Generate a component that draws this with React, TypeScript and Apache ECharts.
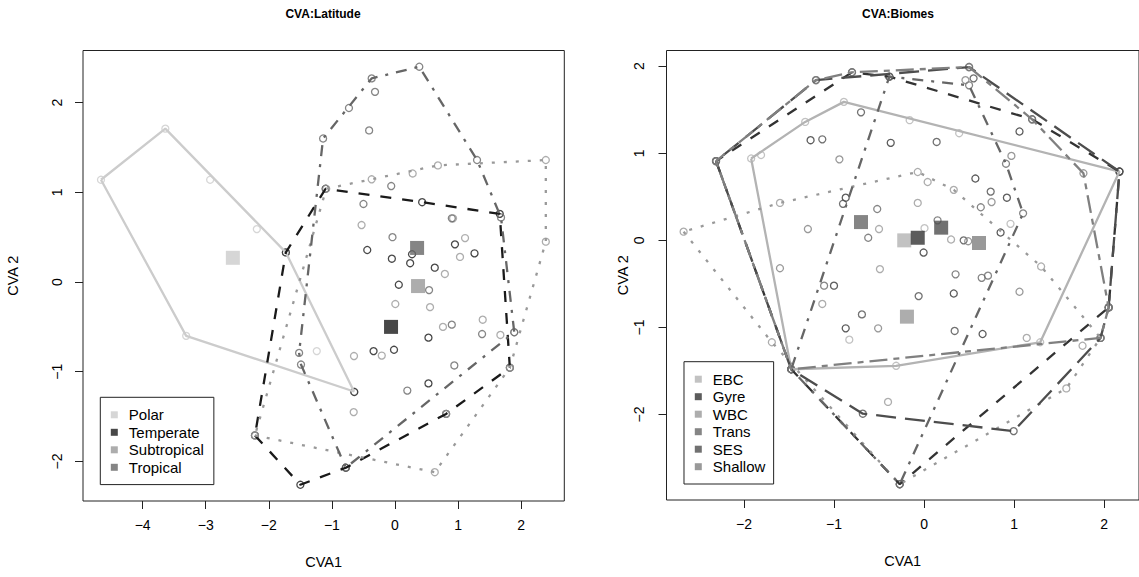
import React, { useEffect, useRef } from "react";
import * as echarts from "echarts";

// ---------- Left panel: CVA:Latitude ----------
const latGroups = ["Polar", "Temperate", "Subtropical", "Tropical"];
const latColors = ["#cccccc", "#1a1a1a", "#999999", "#666666"];

const latPolar = [
  [-3.64, 1.71], [-4.66, 1.14], [-3.31, -0.6], [-0.65, -1.22], [-1.73, 0.33],
  [-2.93, 1.14], [-2.19, 0.59], [-1.24, -0.77],
];
const latTemperate = [
  [-1.73, 0.33], [-1.1, 1.04], [0.43, 0.89], [1.66, 0.76], [1.82, -0.955],
  [0.81, -1.47], [-0.78, -2.07], [-1.5, -2.26], [-2.22, -1.71], [-0.645, -1.226],
  [-0.44, 0.357], [-0.05, 0.26], [0.24, 0.21], [0.27, 0.31], [0.63, 0.16],
  [0.95, 0.42], [1.26, 0.32], [0.06, -0.03], [0.53, -0.62], [-0.34, -0.77],
  [-0.016, -0.755], [0.53, -1.13],
];
const latSubtropical = [
  [2.39, 1.36], [2.39, 0.45], [1.89, -0.56], [1.82, -0.955], [0.63, -2.12],
  [-2.22, -1.71], [-1.09, 1.04], [-0.37, 1.145], [0.28, 1.21], [0.68, 1.3],
  [-0.53, 0.635], [0.79, 0.09], [0.005, -0.245], [0.555, -0.28], [0.76, -0.5],
  [1.39, -0.42], [1.67, -0.59], [1.11, 0.49], [1.03, 0.28], [-0.65, -0.825],
  [-0.21, -0.82], [-0.655, -1.45], [0.81, -1.47], [0.92, 0.71],
];
const latTropical = [
  [0.385, 2.4], [-0.37, 2.27], [-0.73, 1.94], [-1.14, 1.6], [-1.52, -0.79],
  [-1.49, -0.92], [-0.78, -2.07], [1.89, -0.56], [1.68, 0.72], [1.3, 1.36],
  [-0.317, 2.12], [-0.41, 1.69], [-0.06, 1.07], [-0.5, 0.87], [-0.04, 0.5],
  [0.9, 0.71], [0.54, -0.09], [0.9, -0.475], [0.94, -0.93], [0.195, -1.21],
  [1.38, -0.58],
];
const latCentroids = [[-2.57, 0.27], [-0.063, -0.5], [0.365, -0.045], [0.35, 0.38]];

// ---------- Right panel: CVA:Biomes ----------
const bioGroups = ["EBC", "Gyre", "WBC", "Trans", "SES", "Shallow"];
const bioColors = ["#b3b3b3", "#333333", "#999999", "#666666", "#4d4d4d", "#808080"];

const bioEBC = [
  [-1.92, 0.94], [-0.89, 1.59], [2.17, 0.79], [1.29, -1.17], [-0.31, -1.44],
  [-1.475, -1.48], [-1.32, 1.36], [-1.81, 0.98], [-0.16, 1.38], [0.39, 1.23],
  [0.96, 0.19], [0.005, 0.14], [-0.83, -1.14],
];
const bioGyre = [
  [-2.31, 0.91], [-0.8, 1.93], [-0.385, 1.88], [1.2, 1.39], [2.17, 0.79],
  [2.05, -0.77], [-0.27, -2.8], [-1.475, -1.48], [1.06, 1.25], [-1.26, 1.15],
  [-0.37, 1.12], [0.57, 0.71], [0.92, 0.49], [0.85, 0.09], [-0.005, -0.14],
  [-0.87, 0.49], [-1.0, -0.52], [0.33, -0.61], [-0.87, -1.01], [0.65, -1.075],
];
const bioWBC = [
  [-2.67, 0.1], [-1.6, 0.43], [-0.07, 0.785], [0.33, 0.58], [1.3, -0.3],
  [1.96, -1.12], [1.58, -1.7], [-0.27, -2.8], [-1.69, -1.17], [0.04, 0.67],
  [-0.07, 0.43], [0.3, 0.01], [-0.5, 0.13], [-0.49, -0.33], [-1.13, -0.73],
  [1.14, -1.12], [1.76, -1.21], [-0.4, -1.855],
];
const bioTrans = [
  [-0.385, 1.88], [0.5, 1.78], [0.91, 0.88], [1.1, 0.31], [-0.27, -2.8],
  [-1.475, -1.48], [-1.11, -0.52], [0.63, 0.38], [0.15, 0.23], [-0.62, 0.03],
  [-0.52, 0.36], [0.35, -0.39], [0.64, -0.43], [0.71, -0.405],
];
const bioSES = [
  [-2.31, 0.91], [-1.2, 1.84], [0.5, 1.99], [2.17, 0.79], [2.05, -0.77],
  [1.96, -1.12], [0.995, -2.19], [-0.68, -1.99], [-1.475, -1.48], [-0.7, 1.47],
  [-1.13, 1.16], [0.14, 1.13], [0.74, 0.56], [0.44, 0.0], [-0.9, 0.42],
  [-0.06, -0.64], [-0.69, -0.85], [0.34, -1.04], [0.55, 1.86],
];
const bioShallow = [
  [-2.31, 0.91], [-1.2, 1.84], [-0.8, 1.93], [0.5, 1.99], [1.2, 1.39],
  [1.77, 0.77], [2.05, -0.77], [1.96, -1.12], [-1.475, -1.48], [0.46, 1.84],
  [-0.94, 0.93], [0.97, 0.97], [0.75, 0.44], [0.49, -0.01], [-1.29, 0.13],
  [-1.6, -0.32], [1.06, -0.59], [-0.51, -1.01],
];
const bioCentroids = [
  [-0.22, 0.0], [-0.07, 0.03], [-0.19, -0.876], [-0.7, 0.21], [0.19, 0.146], [0.61, -0.03],
];

const latXTicks = [-4, -3, -2, -1, 0, 1, 2];
const latYTicks = [-2, -1, 0, 1, 2];
const bioXTicks = [-2, -1, 0, 1, 2];
const bioYTicks = [-2, -1, 0, 1, 2];

// R line types
const SOLID = "solid";
const DASHED = [11, 11];
const DOTTED = [3, 9];
const DOTDASH = [3, 8, 11, 8];
const LONGDASH = [20, 9];
const TWODASH = [6, 6, 18, 6];

const FONT = '"Liberation Sans", Arial, Helvetica, sans-serif';

function convexHull(pts: number[][]): number[][] {
  const p = pts.slice().sort((a, b) => a[0] - b[0] || a[1] - b[1]);
  const cross = (o: number[], a: number[], b: number[]) =>
    (a[0] - o[0]) * (b[1] - o[1]) - (a[1] - o[1]) * (b[0] - o[0]);
  const lower: number[][] = [];
  for (const q of p) {
    while (lower.length >= 2 && cross(lower[lower.length - 2], lower[lower.length - 1], q) <= 0) lower.pop();
    lower.push(q);
  }
  const upper: number[][] = [];
  for (let i = p.length - 1; i >= 0; i--) {
    const q = p[i];
    while (upper.length >= 2 && cross(upper[upper.length - 2], upper[upper.length - 1], q) <= 0) upper.pop();
    upper.push(q);
  }
  upper.pop();
  lower.pop();
  const h = lower.concat(upper);
  return h.concat([h[0]]);
}

function panelSeries(
  idx: number,
  names: string[],
  colors: string[],
  groups: number[][][],
  dashes: any[],
  centroids: number[][]
) {
  const s: any[] = [];
  groups.forEach((g, i) => {
    s.push({
      type: "scatter",
      name: names[i] + " samples",
      xAxisIndex: idx,
      yAxisIndex: idx,
      data: g,
      symbol: "circle",
      symbolSize: 7,
      itemStyle: { color: "rgba(0,0,0,0)", borderColor: colors[i], borderWidth: 1.3 },
      z: 2,
      silent: true,
    });
  });
  groups.forEach((g, i) => {
    s.push({
      type: "line",
      name: names[i] + " hull",
      xAxisIndex: idx,
      yAxisIndex: idx,
      data: convexHull(g),
      symbol: "none",
      lineStyle: { color: colors[i], width: 2.3, type: dashes[i], cap: "butt" },
      z: 3,
      silent: true,
    });
  });
  centroids.forEach((c, i) => {
    s.push({
      type: "scatter",
      name: names[i],
      xAxisIndex: idx,
      yAxisIndex: idx,
      data: [c],
      symbol: "rect",
      symbolSize: 14,
      itemStyle: { color: colors[i] },
      z: 4,
      silent: true,
    });
  });
  return s;
}

const minusFmt = (v: any) => String(v).replace("-", "\u2212");

function xAxisCfg(idx: number, min: number, max: number, ticks: number[]) {
  return {
    gridIndex: idx,
    type: "value",
    position: "bottom",
    min,
    max,
    axisLine: { show: false, onZero: false },
    splitLine: { show: false },
    axisTick: { show: true, length: 8, customValues: ticks, lineStyle: { color: "#222", width: 1 } },
    axisLabel: { customValues: ticks, margin: 17, fontSize: 14, color: "#000", fontFamily: FONT, formatter: minusFmt },
    name: "CVA1",
    nameLocation: "middle",
    nameGap: 53,
    nameTextStyle: { fontSize: 14.5, color: "#000", fontFamily: FONT },
  };
}

function yAxisCfg(idx: number, min: number, max: number, ticks: number[], nameGap: number, margin: number) {
  return {
    gridIndex: idx,
    type: "value",
    position: "left",
    min,
    max,
    axisLine: { show: false, onZero: false },
    splitLine: { show: false },
    axisTick: { show: true, length: 8, customValues: ticks, lineStyle: { color: "#222", width: 1 } },
    axisLabel: { customValues: ticks, margin, rotate: 90, fontSize: 14, color: "#000", fontFamily: FONT, formatter: minusFmt },
    name: "CVA 2",
    nameLocation: "middle",
    nameRotate: 90,
    nameGap,
    nameTextStyle: { fontSize: 14.5, color: "#000", fontFamily: FONT },
  };
}

function legendCfg(names: string[], left: number, top: number, padding: number[]) {
  return {
    data: names,
    orient: "vertical",
    left,
    top,
    padding,
    itemWidth: 7,
    itemHeight: 7,
    itemGap: 2.5,
    icon: "rect",
    selectedMode: false,
    backgroundColor: "#fff",
    borderColor: "#222",
    borderWidth: 1,
    borderRadius: 0,
    textStyle: { fontSize: 15, lineHeight: 15, color: "#000", fontFamily: FONT, padding: [0, 0, 0, 6] },
  };
}

export default function App() {
  const ref = useRef<HTMLDivElement>(null);
  useEffect(() => {
    if (!ref.current) return;
    const chart = echarts.init(ref.current, null, { renderer: "svg" });
    const series = [
      ...panelSeries(0, latGroups, latColors, [latPolar, latTemperate, latSubtropical, latTropical],
        [SOLID, DASHED, DOTTED, DOTDASH], latCentroids),
      ...panelSeries(1, bioGroups, bioColors, [bioEBC, bioGyre, bioWBC, bioTrans, bioSES, bioShallow],
        [SOLID, DASHED, DOTTED, DOTDASH, LONGDASH, TWODASH], bioCentroids),
    ];
    chart.setOption({
      animation: false,
      backgroundColor: "#fff",
      grid: [
        { left: 83, top: 50.5, width: 481.3, height: 450.5, show: true, borderColor: "#222", borderWidth: 1, backgroundColor: "transparent" },
        { left: 666.5, top: 50.5, width: 480.5, height: 449.5, show: true, borderColor: "#222", borderWidth: 1, backgroundColor: "transparent" },
      ],
      xAxis: [xAxisCfg(0, -4.945, 2.683, latXTicks), xAxisCfg(1, -2.86, 2.387, bioXTicks)],
      yAxis: [yAxisCfg(0, -2.441, 2.581, latYTicks, 63, 19), yAxisCfg(1, -2.981, 2.18, bioYTicks, 32, 21)],
      legend: [
        legendCfg(latGroups, 100.3, 397.3, [10, 10, 9.8, 10.5]),
        legendCfg(bioGroups, 684, 361.7, [10, 8.3, 9.8, 10.8]),
      ],
      graphic: [
        { type: "text", x: 323, y: 14, style: { text: "CVA:Latitude", fontSize: 12, fontWeight: "bold", fontFamily: FONT, fill: "#000", align: "center", verticalAlign: "middle", textAlign: "center", textVerticalAlign: "middle" } },
        { type: "text", x: 898, y: 14, style: { text: "CVA:Biomes", fontSize: 12, fontWeight: "bold", fontFamily: FONT, fill: "#000", align: "center", verticalAlign: "middle", textAlign: "center", textVerticalAlign: "middle" } },
      ],
      series,
    });
    return () => chart.dispose();
  }, []);
  return (
    <div
      ref={ref}
      style={{ position: "absolute", left: 0, top: 0, width: 1139, height: 577, overflow: "hidden" }}
    />
  );
}
